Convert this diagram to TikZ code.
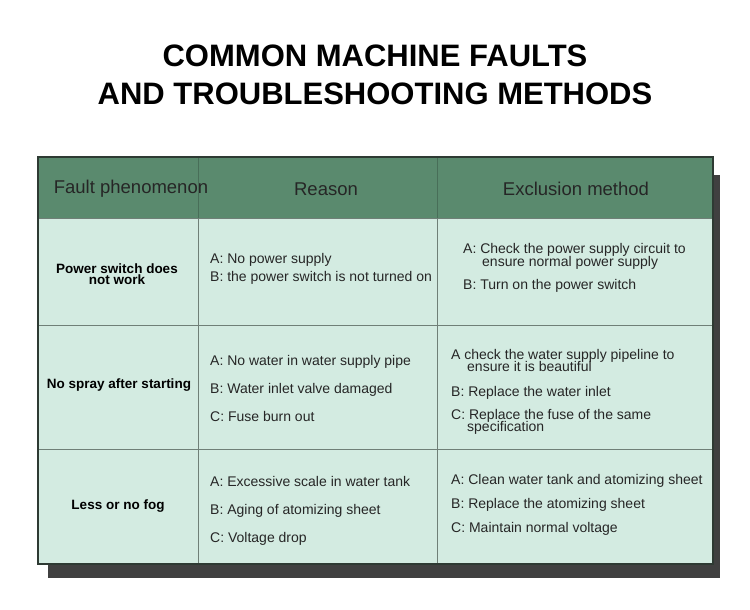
\documentclass[tikz,border=0pt]{standalone}
\usepackage{fontspec}
\setmainfont{Liberation Sans}
\definecolor{headc}{HTML}{5A8A6E}
\definecolor{bodyc}{HTML}{D3EBE1}
\definecolor{shadowc}{HTML}{404040}
\definecolor{gridc}{HTML}{6F7F77}
\definecolor{borderc}{HTML}{2E3A33}
\tikzset{
  titletext/.style={font=\fontsize{31}{38}\selectfont\bfseries, align=center, inner sep=0},
  headtext/.style={font=\fontsize{18.5}{22}\selectfont, text=black!85, inner sep=0},
  faulttext/.style={font=\fontsize{13.5}{11}\selectfont\bfseries, inner sep=0, text height=8.5pt, text depth=1.5pt},
  bodytext/.style={font=\fontsize{14}{12}\selectfont, text=black!85, anchor=west, inner sep=0, text height=8.5pt, text depth=2pt},
  gridline/.style={draw=gridc, line width=1pt},
}
\begin{document}
\begin{tikzpicture}[x=1pt,y=-1pt]
\useasboundingbox (0,0) rectangle (750,610);
\fill[white] (0,0) rectangle (750,610);
% title
\node[titletext] (title) at (375,75) {COMMON MACHINE FAULTS\\AND TROUBLESHOOTING METHODS};
% shadow and table
\fill[shadowc] (48,175) rectangle (720,578);
\fill[bodyc] (38,157) rectangle (713,564);
\fill[headc] (38,157) rectangle (713,218);
\draw[gridline] (38,218) -- (713,218);
\draw[gridline] (38,325) -- (713,325);
\draw[gridline] (38,449) -- (713,449);
\draw[gridline] (198,218) -- (198,564);
\draw[gridline] (437,218) -- (437,564);
\draw[draw=headc!80!black, line width=0.6pt] (198,157) -- (198,218);
\draw[draw=headc!80!black, line width=0.6pt] (437,157) -- (437,218);
\draw[draw=borderc, line width=1.5pt] (38,157) rectangle (713,564);
% header
\node[headtext] (h1) at (131,189) {Fault phenomenon};
\node[headtext] (h2) at (326,189) {Reason};
\node[headtext] (h3) at (576,189) {Exclusion method};
% row 1
\node[faulttext] (f1a) at (117,270) {Power switch does};
\node[faulttext] (f1b) at (117,281) {not work};
\node[bodytext] (r1a) at (210,260) {A: No power supply};
\node[bodytext] (r1b) at (210,278) {B: the power switch is not turned on};
\node[bodytext] (e1a) at (463,250) {A: Check the power supply circuit to};
\node[bodytext] (e1a2) at (482,263) {ensure normal power supply};
\node[bodytext] (e1b) at (463,286) {B: Turn on the power switch};
% row 2
\node[faulttext] (f2) at (119,385) {No spray after starting};
\node[bodytext] (r2a) at (210,362) {A: No water in water supply pipe};
\node[bodytext] (r2b) at (210,390) {B: Water inlet valve damaged};
\node[bodytext] (r2c) at (210,418) {C: Fuse burn out};
\node[bodytext] (e2a) at (451,356) {A check the water supply pipeline to};
\node[bodytext] (e2a2) at (467,368) {ensure it is beautiful};
\node[bodytext] (e2b) at (451,393) {B: Replace the water inlet};
\node[bodytext] (e2c) at (451,416) {C: Replace the fuse of the same};
\node[bodytext] (e2c2) at (467,428) {specification};
% row 3
\node[faulttext] (f3) at (118,506) {Less or no fog};
\node[bodytext] (r3a) at (210,483) {A: Excessive scale in water tank};
\node[bodytext] (r3b) at (210,511) {B: Aging of atomizing sheet};
\node[bodytext] (r3c) at (210,539) {C: Voltage drop};
\node[bodytext] (e3a) at (451,481) {A: Clean water tank and atomizing sheet};
\node[bodytext] (e3b) at (451,505) {B: Replace the atomizing sheet};
\node[bodytext] (e3c) at (451,529) {C: Maintain normal voltage};
\end{tikzpicture}
\end{document}
